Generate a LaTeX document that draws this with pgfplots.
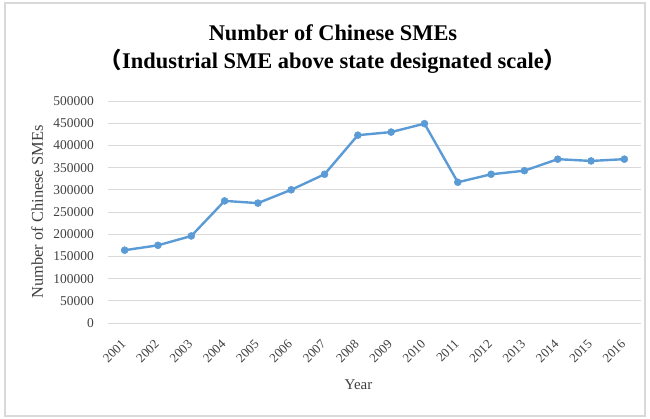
\documentclass[border=0pt]{standalone}
\usepackage{pgfplots}
\pgfplotsset{compat=1.18}
\usepackage{fontspec}
\setmainfont{Liberation Serif}
\newfontfamily\cjk{Noto Sans CJK SC}
\definecolor{lineblue}{RGB}{91,155,213}
\definecolor{gridgray}{RGB}{217,217,217}

\begin{document}
\begin{tikzpicture}[x=1bp,y=1bp]
\path[use as bounding box] (0,0) rectangle (650,418);
\draw[gridgray, line width=1.2bp] (5,2) rectangle (645,415);

\node[font=\fontsize{22.5}{26}\selectfont\bfseries] at (333,385) {Number of Chinese SMEs};
\node[font=\fontsize{22.5}{26}\selectfont\bfseries] at (333,357) {{\cjk （}Industrial SME above state designated scale{\cjk ）}};

\begin{axis}[
    at={(108bp,95bp)}, anchor=south west,
    scale only axis,
    width=533bp, height=222bp,
    xmin=0.5, xmax=16.5,
    ymin=0, ymax=500000,
    axis line style={draw=none},
    major tick length=0pt,
    xtick={1,...,16},
    xticklabels={2001,2002,2003,2004,2005,2006,2007,2008,2009,2010,2011,2012,2013,2014,2015,2016},
    ytick={0,50000,...,500000},
    scaled y ticks=false,
    yticklabel={\pgfmathprintnumber[fixed,precision=0,1000 sep={}]{\tick}},
    /pgf/number format/assume math mode=true,
    ymajorgrids,
    grid style={gridgray, line width=0.9bp},
    tick label style={font=\fontsize{13.5}{15}\selectfont, text=black!75},
    y tick label style={anchor=east, inner sep=0pt, xshift=-14bp},
    x tick label style={font=\fontsize{13}{14}\selectfont, rotate=45, anchor=east, inner sep=0pt, xshift=-14bp, yshift=-12.5bp},
    xlabel={Year},
    xlabel style={font=\fontsize{15}{16}\selectfont, text=black!75, at={(axis description cs:0.47,-0.28)}, anchor=center},
    ylabel={Number of Chinese SMEs},
    ylabel style={font=\fontsize{16.5}{18}\selectfont, text=black!75, at={(axis description cs:-0.133,0.5)}, anchor=center},
]
\addplot[lineblue, line width=2.4bp, mark=*, mark size=3.5bp, mark options={fill=lineblue, draw=lineblue, line width=0.5bp}]
coordinates {
(1,164000) (2,175000) (3,196000) (4,275000) (5,270000) (6,300000)
(7,335000) (8,423000) (9,430000) (10,449000) (11,317000) (12,335000)
(13,343000) (14,369000) (15,365000) (16,369000)
};
\end{axis}
\end{tikzpicture}
\end{document}
